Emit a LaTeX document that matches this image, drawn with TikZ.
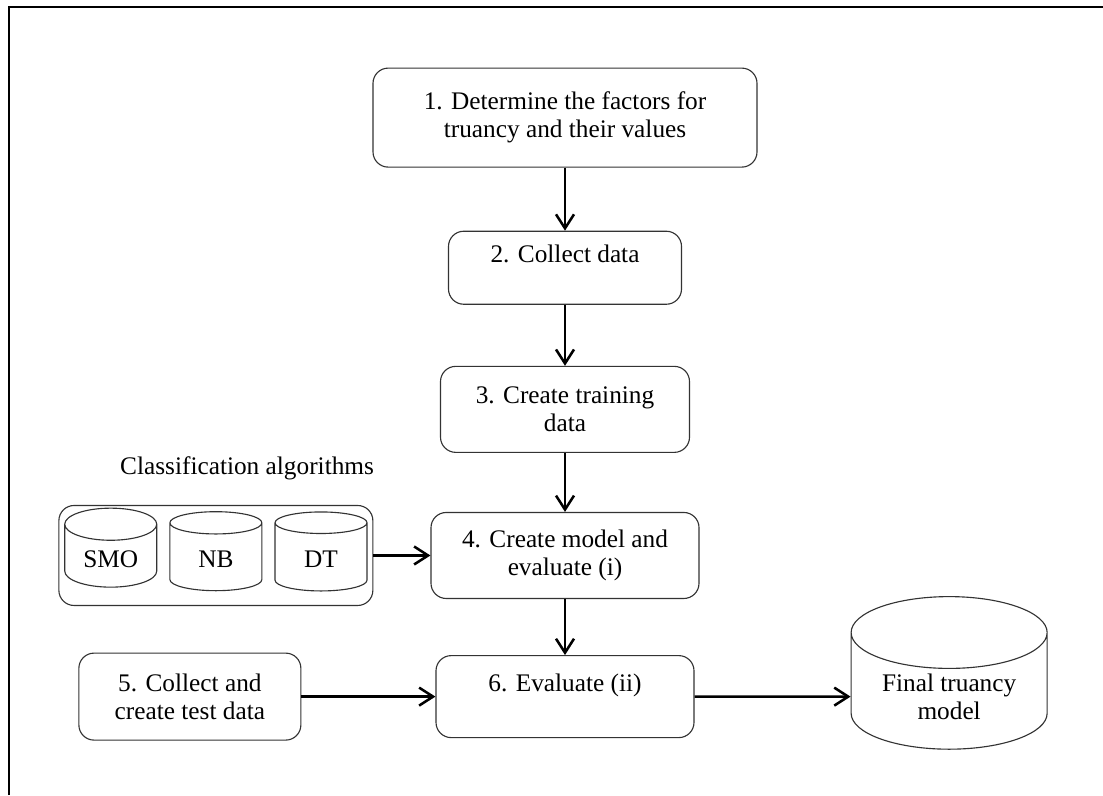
\documentclass[tikz,border=0pt]{standalone}
\usepackage{fontspec}
\setmainfont{Liberation Serif}
\usetikzlibrary{arrows.meta,positioning,shapes.geometric}

\begin{document}
\begin{tikzpicture}[node distance=1.5cm, >={Straight Barb[length=3.5mm,width=4.5mm]},
  every node/.style={align=center, font=\fontsize{18}{20}\selectfont},
  stepbox/.style={draw=black!80, line width=0.8pt, rounded corners=0.38cm},
  dbase/.style={draw=black!80, line width=0.8pt, cylinder, shape border rotate=90, aspect=0.5},
  flow/.style={->, line width=1.8pt}]
  \useasboundingbox (0,0) rectangle (27.575,-19.875);
  \draw[line width=1pt] (0.225,-19.875) -- (0.225,-0.175) -- (27.575,-0.175);
  % main column
  \node[stepbox,minimum width=9.6cm,minimum height=2.475cm] (factors) at (14.125,-2.94) {1. Determine the factors for\\truancy and their values};
  \node[stepbox,minimum width=5.825cm,minimum height=1.825cm,below=1.575cm of factors] (collect) {2. Collect data\\\mbox{}};
  \node[stepbox,minimum width=6.225cm,minimum height=2.15cm,below=1.525cm of collect] (train) {3. Create training\\data};
  \node[stepbox,minimum width=6.7cm,minimum height=2.15cm,below=1.475cm of train] (model) {4. Create model and\\evaluate (i)};
  \node[stepbox,minimum width=6.45cm,minimum height=2.05cm,below=1.4cm of model] (eval) {6. Evaluate (ii)\\\mbox{}};
  \node[stepbox,minimum width=5.55cm,minimum height=2.175cm,left=3.35cm of eval] (test) {5. Collect and\\create test data};
  \node[dbase,minimum width=4.9cm,minimum height=3.6cm,right=3.9cm of eval] (final) {Final truancy\\model};
  % algorithms
  \node[stepbox,minimum width=7.85cm,minimum height=2.5cm,left=1.425cm of model] (algos) {};
  \node[dbase,minimum width=2.3cm,minimum height=1.975cm] (nb) at ([yshift=-0.1cm]algos.center) {NB};
  \node[dbase,minimum width=2.3cm,minimum height=1.975cm,left=0.3cm of nb] (smo) {SMO};
  \node[dbase,minimum width=2.3cm,minimum height=1.975cm,right=0.3cm of nb] (dt) {DT};
  \node[above=0.5cm of algos,xshift=0.78cm] (algolbl) {Classification algorithms};
  \draw[flow] (factors) -- (collect);
  \draw[flow] (collect) -- (train);
  \draw[flow] (train) -- (model);
  \draw[flow] (model) -- (eval);
  \draw[flow] (algos) -- (model);
  \draw[flow] (test) -- (eval);
  \draw[flow] (eval) -- (final);
\end{tikzpicture}
\end{document}
